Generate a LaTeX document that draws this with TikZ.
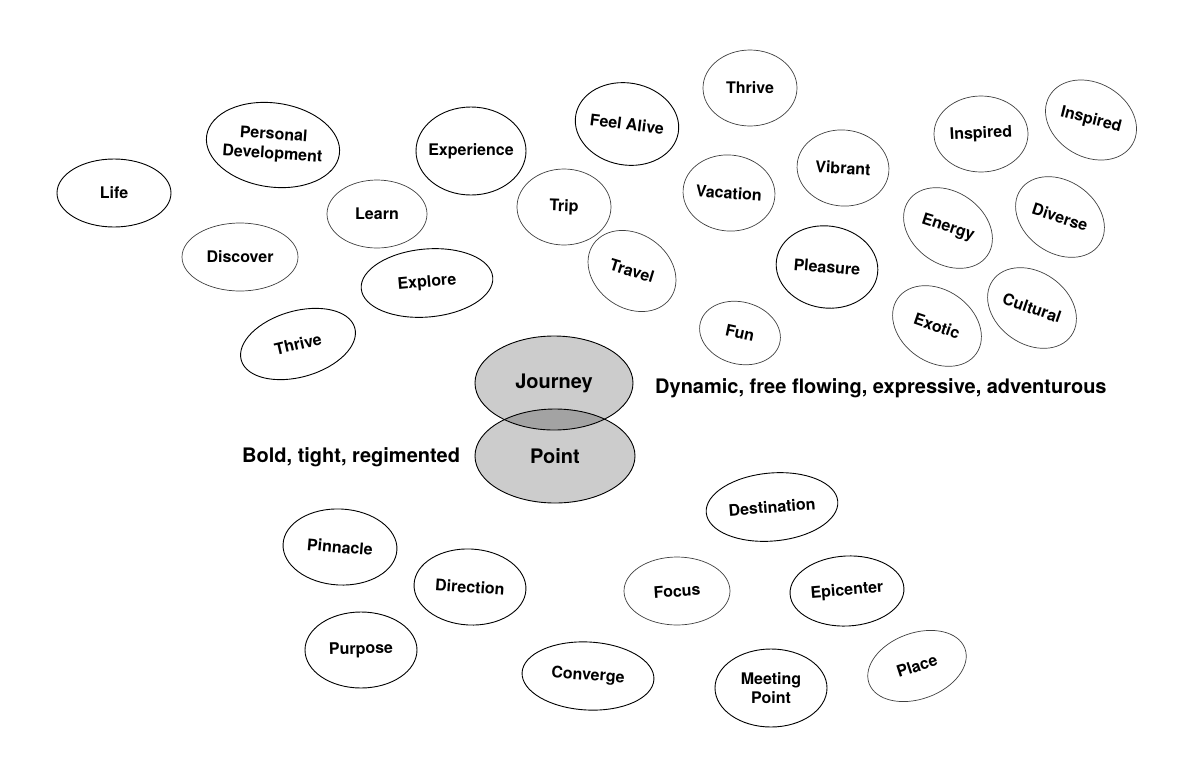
\documentclass[tikz,border=0pt]{standalone}
\usepackage{fontspec}
\setmainfont{TeX Gyre Heros}
\begin{document}
\begin{tikzpicture}[x=1pt,y=-1pt,
  thickline/.style={draw=black,line width=0.9pt},
  thinline/.style={draw=black!75,line width=0.7pt},
  bubtext/.style={inner sep=0pt,align=center,font=\bfseries\fontsize{16}{19.5}\selectfont},
  bigtext/.style={inner sep=0pt,font=\bfseries\fontsize{20}{24}\selectfont},
  venn/.style={fill=black,fill opacity=0.2,draw=none}]
\useasboundingbox (0,0) rectangle (1200,769);
\newcommand\bub[9]{%
  \draw[#8, rotate around={#6:(#2,#3)}] (#2,#3) ellipse [x radius=#4, y radius=#5];
  \node[bubtext, rotate=#7] (#1) at (#2,#3) {#9};}
% upper left group
\bub{life}{114}{193}{57}{34}{0}{0}{thickline}{Life}
\bub{persdev}{273}{145}{67}{42}{-8}{-4}{thickline}{Personal\\Development}
\bub{discover}{240}{257}{58}{34}{0}{0}{thinline}{Discover}
\bub{thriveL}{298}{344}{59}{33}{16}{13}{thickline}{Thrive}
\bub{learn}{377}{214}{50}{34}{0}{0}{thinline}{Learn}
\bub{explore}{427}{283}{66}{34}{5}{5}{thickline}{Explore}
\bub{experience}{471}{151}{55}{44}{0}{0}{thickline}{Experience}
\bub{trip}{564}{207}{47}{38}{0}{-2}{thinline}{Trip}
\bub{feelalive}{627}{124}{52}{41}{-10}{-7}{thickline}{Feel Alive}
\bub{travel}{632}{271}{47}{37}{-35}{-17}{thinline}{Travel}
% upper right group
\bub{thriveT}{750}{88}{47}{38}{0}{0}{thinline}{Thrive}
\bub{vacation}{729}{193}{46}{38}{-5}{-4}{thinline}{Vacation}
\bub{vibrant}{843}{168}{46}{38}{-5}{-3}{thinline}{Vibrant}
\bub{pleasure}{827}{267}{51}{41}{-8}{-4.5}{thickline}{Pleasure}
\bub{fun}{740}{333}{41}{31}{-15}{-12}{thinline}{Fun}
\bub{inspiredA}{981}{134}{47}{38}{0}{3}{thinline}{Inspired}
\bub{inspiredB}{1091}{120}{48}{37}{-30}{-14}{thinline}{Inspired}
\bub{energy}{948}{228}{48}{36}{-35}{-18}{thinline}{Energy}
\bub{diverse}{1060}{217}{48}{36}{-35}{-18}{thinline}{Diverse}
\bub{exotic}{937}{326}{48}{36}{-35}{-19}{thinline}{Exotic}
\bub{cultural}{1032}{308}{48}{36}{-35}{-19}{thinline}{Cultural}
% lower group
\bub{pinnacle}{340}{547}{57}{38}{-3}{-5}{thickline}{Pinnacle}
\bub{direction}{470}{587}{56}{38}{-3}{-4}{thickline}{Direction}
\bub{purpose}{361}{650}{56}{38}{0}{1.5}{thickline}{Purpose}
\bub{converge}{588}{676}{66}{34}{-3}{-4}{thickline}{Converge}
\bub{destination}{772}{507}{66}{34}{5}{4.5}{thickline}{Destination}
\bub{focus}{677}{591}{53}{34}{0}{4}{thinline}{Focus}
\bub{epicenter}{847}{591}{57}{35}{3}{4.5}{thickline}{Epicenter}
\bub{meeting}{771}{688}{56}{39}{0}{0}{thickline}{Meeting\\Point}
\bub{place}{917}{666}{51}{33}{20}{18}{thinline}{Place}
% central Venn pair
\fill[venn] (554,383) ellipse [x radius=79, y radius=47];
\fill[venn] (555,456) ellipse [x radius=80, y radius=47];
\draw[thickline] (554,383) ellipse [x radius=79, y radius=47];
\draw[thickline] (555,456) ellipse [x radius=80, y radius=47];
\node[bigtext] (journey) at (554,383) {Journey};
\node[bigtext] (point) at (555,456) {Point};
\node[bigtext,anchor=base west] (dynamic) at (655,393) {Dynamic, free flowing, expressive, adventurous};
\node[bigtext,anchor=base west] (bold) at (242,462) {Bold, tight, regimented};
\end{tikzpicture}
\end{document}
